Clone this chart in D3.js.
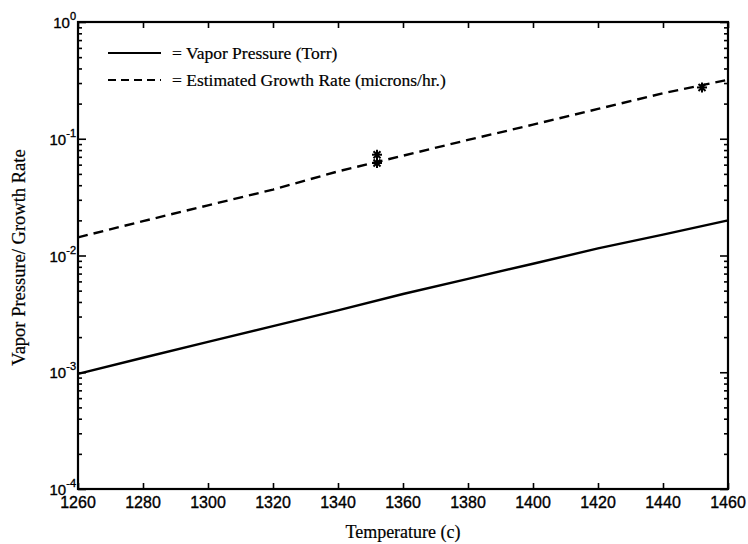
<!DOCTYPE html>
<html>
<head>
<meta charset="utf-8">
<script src="https://cdn.jsdelivr.net/npm/d3@7/dist/d3.min.js"></script>
<style>
  html, body { margin: 0; padding: 0; background: #fff; }
  svg { display: block; }
  .tick-label { font-family: "Liberation Sans", Arial, sans-serif; fill: #000; stroke: #000; stroke-width: 0.35; }
  .serif { font-family: "Liberation Serif", "Times New Roman", serif; fill: #000; stroke: #000; stroke-width: 0.2; }
</style>
</head>
<body>
<svg id="chart" width="748" height="544"></svg>
<script>
// Temperature grid (°C) for the two curves
const temperatures = [1260, 1280, 1300, 1320, 1340, 1360, 1380, 1400, 1420, 1440, 1460];
// Vapor pressure, Torr
const vaporPressure = [0.00097, 0.00133, 0.00182, 0.00248, 0.00339, 0.00468, 0.00631, 0.0085, 0.0115, 0.0151, 0.0200];
// Estimated growth rate, microns/hr.
const growthRate = [0.0143, 0.0197, 0.0269, 0.0367, 0.0525, 0.0716, 0.0977, 0.132, 0.180, 0.245, 0.320];
// Measured growth rates
const measuredTemps = [1352, 1352, 1452];
const measuredRates = [0.073, 0.062, 0.275];
// Axis ticks
const xTickValues = [1260, 1280, 1300, 1320, 1340, 1360, 1380, 1400, 1420, 1440, 1460];
const yExponents = [0, -1, -2, -3, -4];
const legendLabels = ["= Vapor Pressure (Torr)", "= Estimated Growth Rate (microns/hr.)"];

const svg = d3.select("#chart");
const plot = { left: 78, right: 728, top: 22, bottom: 489 };

const x = d3.scaleLinear().domain([1260, 1460]).range([plot.left, plot.right]);
const y = d3.scaleLog().domain([1e-4, 1]).range([plot.bottom, plot.top]);

const majorY = yExponents.map(e => Math.pow(10, e));
const minorY = [];
for (let e = -4; e < 0; e++) for (let m = 2; m <= 9; m++) minorY.push(m * Math.pow(10, e));

function styleAxis(g) {
  g.select(".domain").remove();
  g.selectAll(".tick line").attr("stroke", "#000").attr("stroke-width", 1.6);
}

// Bottom and top ticks (pointing inward)
svg.append("g").attr("transform", `translate(0,${plot.bottom})`)
  .call(d3.axisBottom(x).tickValues(xTickValues).tickSize(-6).tickFormat(""))
  .call(styleAxis);
svg.append("g").attr("transform", `translate(0,${plot.top})`)
  .call(d3.axisTop(x).tickValues(xTickValues).tickSize(-6).tickFormat(""))
  .call(styleAxis);

// Left and right major / minor ticks
[[d3.axisLeft, plot.left], [d3.axisRight, plot.right]].forEach(([axisFn, pos]) => {
  svg.append("g").attr("transform", `translate(${pos},0)`)
    .call(axisFn(y).tickValues(majorY).tickSize(-8).tickFormat(""))
    .call(styleAxis);
  svg.append("g").attr("transform", `translate(${pos},0)`)
    .call(axisFn(y).tickValues(minorY).tickSize(-4).tickFormat(""))
    .call(styleAxis);
});

// Frame
svg.append("rect")
  .attr("x", plot.left).attr("y", plot.top)
  .attr("width", plot.right - plot.left).attr("height", plot.bottom - plot.top)
  .attr("fill", "none").attr("stroke", "#000").attr("stroke-width", 2.2);

// X tick labels
svg.append("g").selectAll("text").data(xTickValues).join("text")
  .attr("class", "tick-label")
  .attr("x", d => x(d)).attr("y", plot.bottom + 19)
  .attr("text-anchor", "middle").attr("font-size", 16)
  .text(d => d);

// Y tick labels as 10 with a superscript exponent
const yLab = svg.append("g").selectAll("text").data(yExponents).join("text")
  .attr("class", "tick-label")
  .attr("x", plot.left - 2).attr("y", d => y(Math.pow(10, d)) + 6)
  .attr("text-anchor", "end").attr("font-size", 15);
yLab.append("tspan").text("10");
yLab.append("tspan").attr("dy", -8).attr("font-size", 11).text(d => d === 0 ? "0" : d);

// Axis titles
svg.append("text").attr("class", "serif")
  .attr("x", (plot.left + plot.right) / 2).attr("y", 538)
  .attr("text-anchor", "middle").attr("font-size", 18)
  .text("Temperature (c)");
svg.append("text").attr("class", "serif")
  .attr("transform", `translate(25,${(plot.top + plot.bottom) / 2 + 2}) rotate(-90)`)
  .attr("text-anchor", "middle").attr("font-size", 18.5)
  .text("Vapor Pressure/ Growth Rate");

// Curves
const line = vals => d3.line().x((d, i) => x(temperatures[i])).y(d => y(d))(vals);
svg.append("path").attr("d", line(vaporPressure))
  .attr("fill", "none").attr("stroke", "#000").attr("stroke-width", 2.4);
svg.append("path").attr("d", line(growthRate))
  .attr("fill", "none").attr("stroke", "#000").attr("stroke-width", 2.4)
  .attr("stroke-dasharray", "10,6");

// Measured points as asterisks
const star = svg.append("g").selectAll("g").data(measuredRates).join("g")
  .attr("transform", (d, i) => `translate(${x(measuredTemps[i])},${y(d)})`);
const r = 5;
[[-r, 0, r, 0], [0, -r, 0, r], [-r * 0.7, -r * 0.7, r * 0.7, r * 0.7], [-r * 0.7, r * 0.7, r * 0.7, -r * 0.7]]
  .forEach(([x1, y1, x2, y2]) => {
    star.append("line").attr("x1", x1).attr("y1", y1).attr("x2", x2).attr("y2", y2)
      .attr("stroke", "#000").attr("stroke-width", 2);
  });

// Legend
const legend = svg.append("g");
[53, 80].forEach((ly, i) => {
  legend.append("line").attr("x1", 108).attr("x2", 161).attr("y1", ly).attr("y2", ly)
    .attr("stroke", "#000").attr("stroke-width", 2.2)
    .attr("stroke-dasharray", i === 1 ? "8,5" : null);
  legend.append("text").attr("class", "serif")
    .attr("x", 172).attr("y", ly + 6).attr("font-size", 17.5)
    .text(legendLabels[i]);
});
</script>
</body>
</html>
